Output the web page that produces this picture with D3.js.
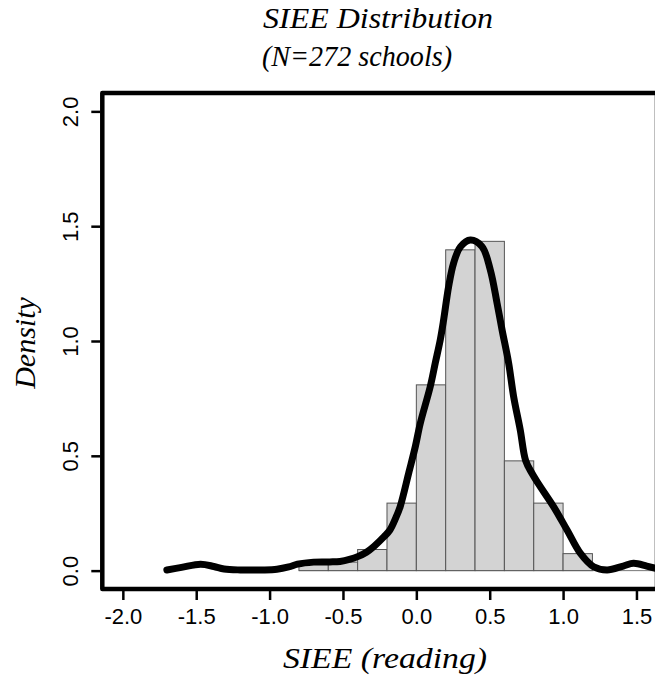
<!DOCTYPE html>
<html>
<head>
<meta charset="utf-8">
<script src="https://cdn.jsdelivr.net/npm/d3@7"></script>
<style>
  html, body { margin: 0; padding: 0; background: #fff; }
  svg { display: block; }
</style>
</head>
<body>
<script>
// ---- data ----
const binEdges = [-0.8, -0.6, -0.4, -0.2, 0.0, 0.2, 0.4, 0.6, 0.8, 1.0, 1.2];
const binDensity = [0.037, 0.037, 0.092, 0.294, 0.809, 1.397, 1.434, 0.478, 0.294, 0.074];
const densityX = [-1.70, -1.60, -1.47, -1.38, -1.31, -1.20, -1.05, -0.95, -0.87, -0.81, -0.70, -0.59, -0.52, -0.45, -0.40, -0.34, -0.29, -0.22, -0.18, -0.14, -0.11, -0.05, -0.007, 0.027, 0.095, 0.129, 0.163, 0.186, 0.22, 0.254, 0.30, 0.368, 0.447, 0.504, 0.55, 0.584, 0.629, 0.663, 0.708, 0.745, 0.788, 0.83, 0.935, 1.027, 1.117, 1.208, 1.30, 1.41, 1.48, 1.57, 1.64];
const densityY = [0.003, 0.014, 0.028, 0.018, 0.007, 0.003, 0.003, 0.006, 0.016, 0.028, 0.037, 0.038, 0.040, 0.050, 0.061, 0.080, 0.105, 0.148, 0.177, 0.230, 0.279, 0.430, 0.540, 0.642, 0.802, 0.904, 1.005, 1.092, 1.237, 1.339, 1.410, 1.440, 1.412, 1.310, 1.165, 1.049, 0.904, 0.758, 0.613, 0.479, 0.424, 0.380, 0.279, 0.177, 0.076, 0.017, 0.003, 0.020, 0.032, 0.020, 0.008];
const xTicks = [-2.0, -1.5, -1.0, -0.5, 0.0, 0.5, 1.0, 1.5];
const yTicks = [0.0, 0.5, 1.0, 1.5, 2.0];
const titleLines = ["SIEE Distribution", "(N=272 schools)"];
const xLabel = "SIEE (reading)";
const yLabel = "Density";

// ---- layout ----
const W = 655, H = 678;
const svg = d3.select("body").append("svg").attr("width", W).attr("height", H);

const x = d3.scaleLinear().domain([-2.14, 1.64]).range([102.3, 657]);
const y = d3.scaleLinear().domain([-0.08, 2.08]).range([589, 93]);

const serif = "'Liberation Serif', 'DejaVu Serif', serif";
const sans = "'Liberation Sans', Arial, sans-serif";

svg.append("defs").append("clipPath").attr("id", "plotclip")
  .append("rect").attr("x", x.range()[0]).attr("y", y.range()[1])
  .attr("width", x.range()[1] - x.range()[0]).attr("height", y.range()[0] - y.range()[1]);

const plot = svg.append("g").attr("clip-path", "url(#plotclip)");

// baseline
plot.append("line")
  .attr("x1", x(binEdges[0])).attr("x2", x.range()[1])
  .attr("y1", y(0)).attr("y2", y(0))
  .attr("stroke", "#777").attr("stroke-width", 1);

// histogram bars
const bins = binDensity.map((d, i) => ({ x0: binEdges[i], x1: binEdges[i + 1], d }));
plot.selectAll("rect.bar").data(bins).enter().append("rect")
  .attr("class", "bar")
  .attr("x", b => x(b.x0))
  .attr("y", b => y(b.d))
  .attr("width", b => x(b.x1) - x(b.x0))
  .attr("height", b => y(0) - y(b.d))
  .attr("fill", "#d3d3d3")
  .attr("stroke", "#555")
  .attr("stroke-width", 1);

// density curve
const pts = densityX.map((v, i) => [v, densityY[i]]);
plot.append("path")
  .datum(pts)
  .attr("d", d3.line().x(p => x(p[0])).y(p => y(p[1])).curve(d3.curveCatmullRom.alpha(0.5)))
  .attr("fill", "none")
  .attr("stroke", "#000")
  .attr("stroke-width", 7)
  .attr("stroke-linecap", "round")
  .attr("stroke-linejoin", "round");

// box
svg.append("rect")
  .attr("x", x.range()[0]).attr("y", y.range()[1])
  .attr("width", x.range()[1] - x.range()[0]).attr("height", y.range()[0] - y.range()[1])
  .attr("fill", "none").attr("stroke", "#000").attr("stroke-width", 4.5)
  .attr("stroke-linejoin", "round");

// x axis
const fmt = d => d.toFixed(1);
const xAxis = svg.append("g").attr("transform", `translate(0,${y.range()[0] + 2})`)
  .call(d3.axisBottom(x).tickValues(xTicks).tickFormat(fmt).tickSize(9).tickSizeOuter(0));
xAxis.select(".domain").remove();
xAxis.selectAll(".tick line").attr("stroke", "#000").attr("stroke-width", 2.5);
xAxis.selectAll(".tick text")
  .attr("y", 33).attr("dy", null)
  .attr("font-family", sans).attr("font-size", 22).attr("fill", "#000");

// y axis
const yAxis = svg.append("g").attr("transform", `translate(${x.range()[0] - 2},0)`)
  .call(d3.axisLeft(y).tickValues(yTicks).tickFormat(fmt).tickSize(9).tickSizeOuter(0));
yAxis.select(".domain").remove();
yAxis.selectAll(".tick line").attr("stroke", "#000").attr("stroke-width", 2.5);
yAxis.selectAll(".tick text")
  .attr("x", null).attr("dy", null)
  .attr("transform", "translate(-22,0) rotate(-90)")
  .attr("text-anchor", "middle")
  .attr("font-family", sans).attr("font-size", 22).attr("fill", "#000");

// titles
svg.append("text").attr("x", 263).attr("y", 28)
  .attr("font-family", serif).attr("font-style", "italic").attr("font-size", 30)
  .attr("textLength", 230).attr("lengthAdjust", "spacingAndGlyphs")
  .text(titleLines[0]);
svg.append("text").attr("x", 262).attr("y", 66)
  .attr("font-family", serif).attr("font-style", "italic").attr("font-size", 30)
  .attr("textLength", 190).attr("lengthAdjust", "spacingAndGlyphs")
  .text(titleLines[1]);

// x label
svg.append("text").attr("x", 283).attr("y", 668)
  .attr("font-family", serif).attr("font-style", "italic").attr("font-size", 30)
  .attr("textLength", 204).attr("lengthAdjust", "spacingAndGlyphs")
  .text(xLabel);

// y label
svg.append("text")
  .attr("transform", "translate(35,343) rotate(-90)")
  .attr("text-anchor", "middle")
  .attr("font-family", serif).attr("font-style", "italic").attr("font-size", 30)
  .text(yLabel);
</script>
</body>
</html>
